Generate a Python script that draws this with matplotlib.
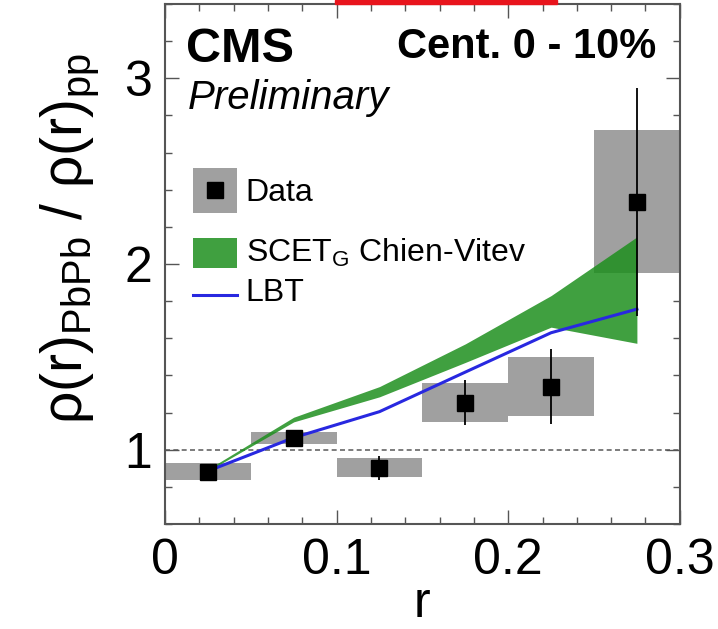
'''CMS jet shape ratio PbPb/pp, centrality 0-10%, compared with SCET_G and LBT'''

import numpy as np
import matplotlib
matplotlib.use('Agg')
import matplotlib.pyplot as plt
from matplotlib.patches import Rectangle
from matplotlib.ticker import MultipleLocator

# data
r_edges = [0.0, 0.05, 0.10, 0.15, 0.20, 0.25, 0.30]
r_center = [0.025, 0.075, 0.125, 0.175, 0.225, 0.275]
ratio = [0.881, 1.065, 0.903, 1.254, 1.340, 2.335]
stat_err = [0.015, 0.015, 0.065, 0.120, 0.200, 0.615]
sys_err = [0.046, 0.033, 0.050, 0.105, 0.160, 0.385]

# theory curves
theory_r = [0.025, 0.075, 0.125, 0.175, 0.225, 0.275]
scet_low = [0.885, 1.150, 1.285, 1.470, 1.660, 1.573]
scet_high = [0.895, 1.175, 1.340, 1.570, 1.830, 2.146]
lbt = [0.885, 1.065, 1.205, 1.418, 1.630, 1.757]

xtick_labels = ['0', '0.1', '0.2', '0.3']
ytick_labels = ['1', '2', '3']

plt.rcParams['font.family'] = ['Liberation Sans', 'DejaVu Sans']
plt.rcParams['mathtext.fontset'] = 'custom'
plt.rcParams['mathtext.rm'] = 'Liberation Sans'
plt.rcParams['mathtext.it'] = 'Liberation Sans:italic'

GRAY = '#a0a0a0'
GREEN = '#1e8f1e'
BLUE = '#2828e0'
FRAME = '#555555'


def make_plot():
    fig = plt.figure(figsize=(7.18, 6.29), dpi=100)
    ax = fig.add_axes([0.2298, 0.1669, 0.717, 0.8267])

    ax.axhline(1.0, color='#666666', lw=1.2, ls=(0, (3, 2)), zorder=1)

    lo = np.array(ratio) - np.array(sys_err)
    widths = np.diff(r_edges)
    ax.bar(r_center, 2 * np.array(sys_err), bottom=lo, width=widths,
           color=GRAY, edgecolor='none', zorder=2)

    ax.fill_between(theory_r, scet_low, scet_high, color=GREEN, alpha=0.85,
                    lw=0, zorder=3)
    ax.plot(theory_r, lbt, color=BLUE, lw=2.2, zorder=4)

    ax.errorbar(r_center, ratio, yerr=stat_err, fmt='s', color='black',
                ms=11.5, elinewidth=1.3, capsize=0, zorder=5)

    ax.set_xlim(0, 0.3)
    ax.set_ylim(0.6, 3.4)
    ax.xaxis.set_minor_locator(MultipleLocator(0.02))
    ax.yaxis.set_minor_locator(MultipleLocator(0.2))
    ax.set_xticks([0, 0.1, 0.2, 0.3])
    ax.set_xticklabels(xtick_labels)
    ax.set_yticks([1, 2, 3])
    ax.set_yticklabels(ytick_labels)

    ax.tick_params(which='both', direction='in', top=True, right=True,
                   color=FRAME, width=1.0, labelsize=36)
    ax.tick_params(which='major', length=10)
    ax.tick_params(which='minor', length=5)
    ax.tick_params(axis='x', pad=10)
    ax.tick_params(axis='y', pad=9)
    for sp in ax.spines.values():
        sp.set_color(FRAME)
        sp.set_linewidth(1.5)

    ax.set_xlabel('r', fontsize=36, labelpad=-2)
    ax.set_ylabel(r'ρ(r)$_{\mathregular{PbPb}}$ / ρ(r)$_{\mathregular{pp}}$',
                  fontsize=41)
    ax.yaxis.set_label_coords(-0.124, 0.55)

    # labels
    ax.text(0.04, 0.955, 'CMS', transform=ax.transAxes, fontsize=35,
            fontweight='bold', va='top', ha='left')
    ax.text(0.045, 0.855, 'Preliminary', transform=ax.transAxes, fontsize=29,
            style='italic', va='top', ha='left')
    ax.text(0.955, 0.955, 'Cent. 0 - 10%', transform=ax.transAxes,
            fontsize=30, fontweight='bold', va='top', ha='right')

    # legend drawn by hand
    t = ax.transAxes
    ax.add_patch(Rectangle((0.054, 0.598), 0.086, 0.087, transform=t,
                           color=GRAY, lw=0, zorder=6))
    ax.plot([0.097], [0.6415], 's', color='black', ms=11.5, transform=t,
            zorder=7)
    ax.add_patch(Rectangle((0.054, 0.492), 0.086, 0.058, transform=t,
                           color=GREEN, alpha=0.85, lw=0, zorder=6))
    ax.plot([0.054, 0.140], [0.44, 0.44], color=BLUE, lw=2.2, transform=t,
            zorder=6)
    ax.text(0.157, 0.637, 'Data', transform=t, fontsize=23, va='center')
    ax.text(0.157, 0.521, r'SCET$_{\mathregular{G}}$ Chien-Vitev',
            transform=t, fontsize=23, va='center')
    ax.text(0.157, 0.444, 'LBT', transform=t, fontsize=23, va='center')

    # red bar at the top edge of the slide
    fig.patches.append(Rectangle((0.4666, 0.9935), 0.3094, 0.0065,
                                 transform=fig.transFigure, color='#e8141c',
                                 zorder=10))

    fig.savefig('out.png', dpi=100)


if __name__ == '__main__':
    make_plot()
